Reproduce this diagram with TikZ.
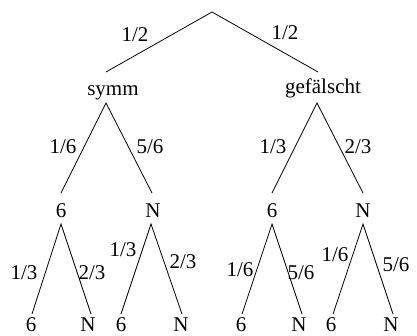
\documentclass[tikz,border=0pt]{standalone}
\usepackage{fontspec}
\setmainfont{Liberation Serif}
\begin{document}
\begin{tikzpicture}[x=1pt,y=-1pt,
  lbl/.style={inner sep=0pt,font=\fontsize{21}{25}\selectfont},
  st/.style={inner sep=0pt,anchor=base,font=\fontsize{21}{25}\selectfont},
  leaf/.style={st,text depth=0pt},
  br/.style={line width=0.8pt}]
\useasboundingbox[fill=white] (0,0) rectangle (417,335);
% nodes
\coordinate (r) at (212,12);
\coordinate (sT) at (106,72);
\coordinate (gT) at (318,72);
\node[st] (s) at (113,95) {symm};
\node[st] (g) at (323,93) {gefälscht};
\coordinate (sB) at (106,103);
\coordinate (gB) at (317,103);
\coordinate (a1T) at (61,193);
\coordinate (a2T) at (152,193);
\coordinate (a3T) at (272,193);
\coordinate (a4T) at (363,193);
\node[st] (a1) at (61,217) {6};
\node[st] (a2) at (153,217) {N};
\node[st] (a3) at (272,217) {6};
\node[st] (a4) at (363,217) {N};
\coordinate (a1B) at (61,224);
\coordinate (a2B) at (151,224);
\coordinate (a3B) at (272,224);
\coordinate (a4B) at (363,224);
\coordinate (b1T) at (32,314);
\coordinate (b2T) at (91,314);
\coordinate (b3T) at (121,314);
\coordinate (b4T) at (182,314);
\coordinate (b5T) at (242,314);
\coordinate (b6T) at (302,314);
\coordinate (b7T) at (333,314);
\coordinate (b8T) at (393,314);
\node[leaf] (b1) at (31,331) {6};
\node[leaf] (b2) at (88,331) {N};
\node[leaf] (b3) at (121,331) {6};
\node[leaf] (b4) at (181,331) {N};
\node[leaf] (b5) at (241,331) {6};
\node[leaf] (b6) at (299,331) {N};
\node[leaf] (b7) at (331,331) {6};
\node[leaf] (b8) at (391,331) {N};
% branches
\draw[br] (sT) -- (r) -- (gT);
\draw[br] (a1T) -- (sB) -- (a2T);
\draw[br] (a3T) -- (gB) -- (a4T);
\draw[br] (b1T) -- (a1B) -- (b2T);
\draw[br] (b3T) -- (a2B) -- (b4T);
\draw[br] (b5T) -- (a3B) -- (b6T);
\draw[br] (b7T) -- (a4B) -- (b8T);
% probabilities
\node[lbl] (p1) at (135,35) {1/2};
\node[lbl] (p2) at (285,33) {1/2};
\node[lbl] (p3) at (63,147) {1/6};
\node[lbl] (p4) at (150,147) {5/6};
\node[lbl] (p5) at (273,147) {1/3};
\node[lbl] (p6) at (358,147) {2/3};
\node[lbl] (p7) at (24,273) {1/3};
\node[lbl] (p8) at (92,273) {2/3};
\node[lbl] (p9) at (123,250) {1/3};
\node[lbl] (p10) at (183,262) {2/3};
\node[lbl] (p11) at (240,270) {1/6};
\node[lbl] (p12) at (301,273) {5/6};
\node[lbl] (p13) at (335,255) {1/6};
\node[lbl] (p14) at (396,265) {5/6};
\end{tikzpicture}
\end{document}
